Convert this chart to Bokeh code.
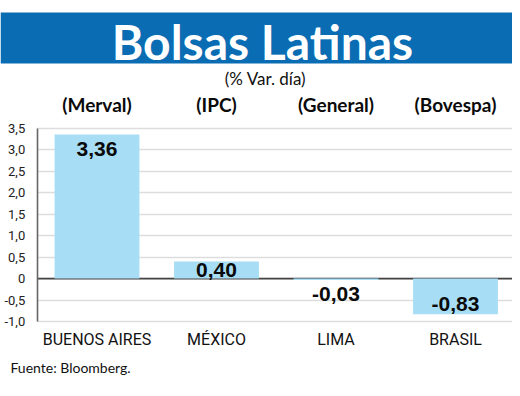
from bokeh.plotting import figure
from bokeh.models import (Range1d, LinearAxis, FixedTicker, Grid, BoxAnnotation,
                          CustomJSTickFormatter)
from bokeh.core.properties import value
from bokeh.embed import file_html
from bokeh.resources import INLINE

# ---- data ----
cities = ["BUENOS AIRES", "MÉXICO", "LIMA", "BRASIL"]
indices = ["(Merval)", "(IPC)", "(General)", "(Bovespa)"]
changes = [3.36, 0.40, -0.03, -0.83]
change_labels = ["3,36", "0,40", "-0,03", "-0,83"]
y_ticks = [-1.0, -0.5, 0, 0.5, 1.0, 1.5, 2.0, 2.5, 3.0, 3.5]
title_text = "Bolsas Latinas"
subtitle_text = "(% Var. día)"
source_text = "Fuente: Bloomberg."

# ---- layout constants (data units) ----
label_anchor = [3.01, 0.19, -0.35, -0.60]
xs = list(range(len(cities)))

p = figure(width=512, height=380,
           x_range=Range1d(-0.8075, 3.477), y_range=Range1d(-2.376, 6.484),
           x_axis_type=None, y_axis_type=None,
           toolbar_location=None, output_backend="svg",
           min_border=0, outline_line_color=None)
p.background_fill_color = "white"

yt = FixedTicker(ticks=y_ticks)
fmt = CustomJSTickFormatter(code="""
    if (Math.abs(tick) < 1e-9) { return "0"; }
    return tick.toFixed(1).replace(".", ",");
""")
yax = LinearAxis(ticker=yt, formatter=fmt, fixed_location=-0.5, bounds=(-1.0, 3.5))
yax.axis_line_color = "#666666"
yax.axis_line_width = 1.6
yax.major_tick_line_color = None
yax.minor_tick_line_color = None
yax.major_label_standoff = 6
yax.major_label_text_font = "Roboto"
yax.major_label_text_font_size = "13px"
yax.major_label_text_color = "#222222"
p.add_layout(yax, "left")

xax = LinearAxis(ticker=FixedTicker(ticks=xs),
                 major_label_overrides={i: c for i, c in zip(xs, cities)},
                 fixed_location=-1.0)
xax.axis_line_color = None
xax.major_tick_line_color = None
xax.minor_tick_line_color = None
xax.major_label_standoff = 3
xax.major_label_text_font = "Roboto"
xax.major_label_text_font_size = "16px"
xax.major_label_text_color = "#111111"
p.add_layout(xax, "below")

grid = Grid(dimension=1, ticker=yt, bounds=(-1.0, 3.5), cross_bounds=(-0.5, 3.5),
            grid_line_color="#dddddd", grid_line_width=1.6)
p.add_layout(grid)

# banner
p.add_layout(BoxAnnotation(top=6.204, bottom=5.015, fill_color="#0a6db4",
                           fill_alpha=1.0, line_color=None, level="underlay"))

# zero line (under bars)
p.segment(x0=[-0.5], x1=[3.5], y0=[0], y1=[0], line_color="#444444", line_width=1.6)

# bars
p.vbar(x=xs, top=changes, bottom=0, width=0.71, fill_color="#a7def5", line_color=None)

# value labels
p.text(x=xs, y=label_anchor, text=change_labels, text_font=value("Liberation Sans"),
       text_font_style="bold", text_font_size="21px", text_color="#0a0a0a",
       text_align="center", text_baseline="middle")

# index names
p.text(x=xs, y=[4.062] * len(xs), text=indices, text_font=value("Lato"),
       text_font_style="bold", text_font_size="19px", text_color="#0a0a0a",
       text_align="center", text_baseline="middle")

# title
p.text(x=[1.385], y=[5.537], text=[title_text], text_font=value("Lato"),
       text_font_style="bold", text_font_size="48px", text_color="white",
       text_align="center", text_baseline="middle")

# subtitle
p.text(x=[1.41], y=[4.665], text=[subtitle_text], text_font=value("Lato"),
       text_font_size="17px", text_color="#111111",
       text_align="center", text_baseline="middle")

# source
p.text(x=[-0.724], y=[-2.074], text=[source_text], text_font=value("Lato"),
       text_font_size="14px", text_color="#111111",
       text_align="left", text_baseline="middle")

open("out.html", "w").write(file_html(p, INLINE))
